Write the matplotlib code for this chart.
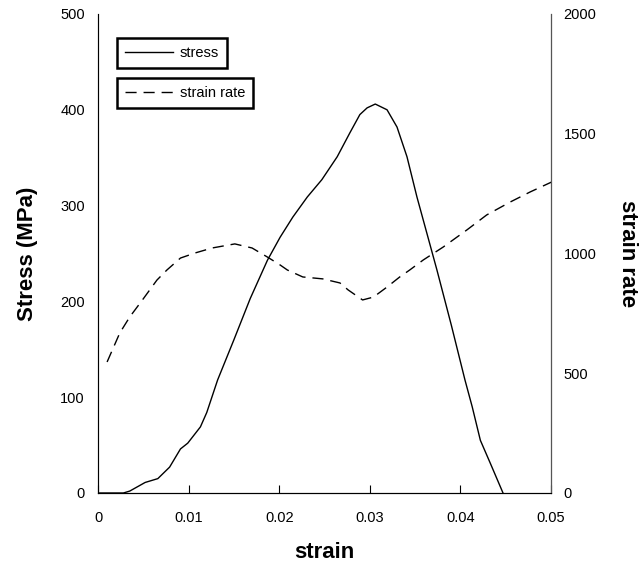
import numpy as np
import matplotlib.pyplot as plt

plt.rcParams['font.family'] = ['Liberation Sans', 'DejaVu Sans']

# stress vs strain
strain_s = [0.0, 0.0019, 0.0028, 0.0035, 0.0052, 0.0066, 0.0079, 0.0091, 0.0099,
            0.0113, 0.0120, 0.0132, 0.0150, 0.0168, 0.0187, 0.0201, 0.0215, 0.0231,
            0.0247, 0.0264, 0.0278, 0.0289, 0.0297, 0.0306, 0.0319, 0.0330, 0.0341,
            0.0352, 0.0363, 0.0374, 0.0390, 0.0405, 0.0413, 0.0422, 0.0433, 0.0447]
stress = [0, 0, 0, 2, 11, 15, 27, 46, 52,
          69, 84, 118, 160, 203, 243, 267, 288, 309,
          327, 351, 376, 395, 402, 406, 400, 382, 351,
          309, 271, 233, 175, 118, 90, 55, 31, 0]

# strain rate vs strain
strain_r = [0.0010, 0.0024, 0.0035, 0.0049, 0.0065, 0.0076, 0.0091, 0.0107, 0.0126,
            0.0151, 0.0170, 0.0187, 0.0201, 0.0209, 0.0226, 0.0248, 0.0267, 0.0276,
            0.0292, 0.0304, 0.0319, 0.0333, 0.0344, 0.0359, 0.0381, 0.0407, 0.0429,
            0.0455, 0.0477, 0.0501]
rate = [547, 668, 735, 806, 889, 931, 981, 1002, 1023,
        1040, 1023, 985, 952, 931, 902, 894, 877, 848,
        806, 818, 860, 902, 931, 973, 1027, 1098, 1161,
        1215, 1257, 1299]

fig = plt.figure(figsize=(6.42, 5.64), dpi=100)
ax = fig.add_axes([0.1527, 0.1259, 0.7056, 0.8493])
ax2 = ax.twinx()

l1, = ax.plot(strain_s, stress, color='black', lw=1.0)
l2, = ax2.plot(strain_r, rate, color='black', lw=1.0, dashes=(8, 5))

ax.set_xlim(0, 0.05)
ax.set_ylim(0, 500)
ax2.set_ylim(0, 2000)
ax.set_xticks([0, 0.01, 0.02, 0.03, 0.04, 0.05])
ax.set_xticklabels(['0', '0.01', '0.02', '0.03', '0.04', '0.05'])
ax.set_yticks([0, 100, 200, 300, 400, 500])
ax2.set_yticks([0, 500, 1000, 1500, 2000])

for a in (ax, ax2):
    a.spines['top'].set_visible(False)
ax.spines['left'].set_color('#555555')
ax2.spines['right'].set_color('#555555')
ax.tick_params(axis='x', direction='in', length=6, labelsize=10.5, pad=13)
ax.tick_params(axis='y', length=0, labelsize=10.5, pad=9.5)
ax2.tick_params(axis='y', length=0, labelsize=10.5, pad=9)

ax.set_xlabel('strain', fontsize=16, fontweight='bold', labelpad=12)
ax.set_ylabel('Stress (MPa)', fontsize=16, fontweight='bold', labelpad=16)
ax2.set_ylabel('strain rate', fontsize=16, fontweight='bold', rotation=270, labelpad=30)

leg_kw = dict(loc='upper left', fontsize=10.5, fancybox=False, framealpha=1,
              borderaxespad=0, handlelength=3.3, handletextpad=0.45, borderpad=0.55)
leg1 = ax.legend([l1], ['stress'], bbox_to_anchor=(0.042, 0.950), **leg_kw)
leg1.get_frame().set_edgecolor('black')
leg1.get_frame().set_linewidth(1.8)
ax.add_artist(leg1)
leg2 = ax.legend([l2], ['strain rate'], bbox_to_anchor=(0.042, 0.866), **leg_kw)
leg2.get_frame().set_edgecolor('black')
leg2.get_frame().set_linewidth(1.8)

fig.savefig('out.png', dpi=100)
